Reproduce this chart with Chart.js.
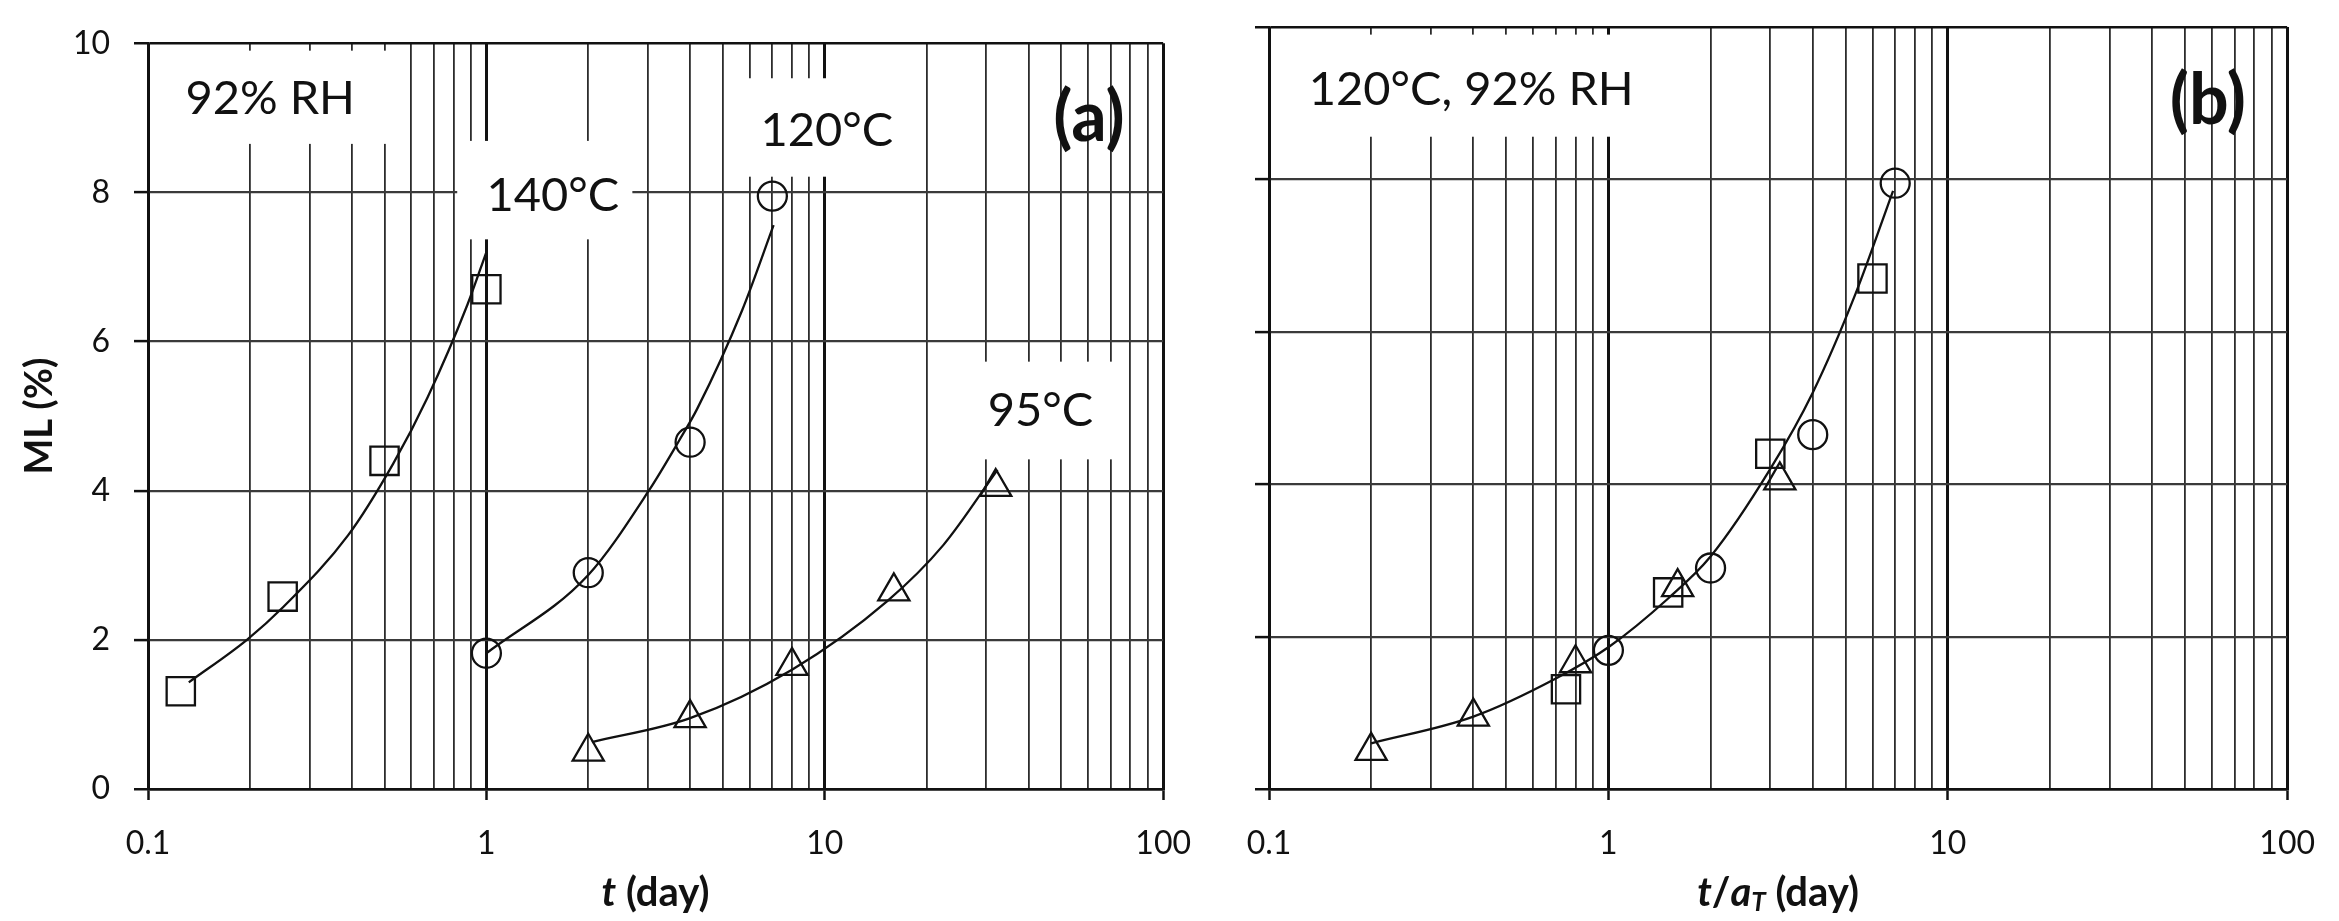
<!DOCTYPE html>
<html>
<head>
<meta charset="utf-8">
<script src="https://cdn.jsdelivr.net/npm/chart.js@4.4.1/dist/chart.umd.min.js"></script>
<style>
  body { margin: 0; background: #fff; }
  #wrap { position: relative; width: 2339px; height: 921px; overflow: hidden; background: #fff; }
  canvas { position: absolute; top: 0; }
  #chartA { left: 0; }
  #chartB { left: 1215px; }
</style>
</head>
<body>
<div id="wrap">
  <canvas id="chartA" width="1215" height="921"></canvas>
  <canvas id="chartB" width="1124" height="921"></canvas>
</div>
<script>
// axis ticks
const xTicks = [0.1, 0.2, 0.3, 0.4, 0.5, 0.6, 0.7, 0.8, 0.9,
                1, 2, 3, 4, 5, 6, 7, 8, 9,
                10, 20, 30, 40, 50, 60, 70, 80, 90, 100];
const xLabels = [0.1, 1, 10, 100];

// panel (a) measured points
const t140 = [0.125, 0.25, 0.5, 1];
const ml140 = [1.31, 2.58, 4.4, 6.7];
const t120 = [1, 2, 4, 7];
const ml120 = [1.82, 2.9, 4.65, 7.95];
const t95 = [2, 4, 8, 16, 32];
const ml95 = [0.5, 0.95, 1.65, 2.65, 4.05];

// panel (a) fitted curves
const fit140T = [0.132, 0.196, 0.251, 0.39, 0.53, 0.67, 0.88, 1.0];
const fit140ML = [1.43, 2.0, 2.44, 3.4, 4.36, 5.25, 6.5, 7.2];
const fit120T = [1.0, 2, 3.03, 3.71, 4.2, 5.7, 7.06];
const fit120ML = [1.82, 2.87, 4.01, 4.67, 5.1, 6.42, 7.56];
const fit95T = [2.05, 4, 8, 15.3, 22.4, 32.4];
const fit95ML = [0.63, 0.95, 1.6, 2.52, 3.27, 4.28];

// panel (b) shifted points (t / aT)
const tb140 = [0.75, 1.5, 3, 6];
const tb120 = [1, 2, 4, 7];
const tb95 = [0.2, 0.4, 0.8, 1.6, 3.2];

// panel (b) master curve
const masterT = [0.2, 0.4, 0.7, 1, 1.5, 2, 3, 4, 5.35, 6.9];
const masterML = [0.6, 0.95, 1.45, 1.86, 2.5, 3.05, 4.2, 5.2, 6.5, 7.85];

const FONT = 'Lato, "Open Sans", sans-serif';
const INK = '#111';

function pts(xs, ys) {
    return xs.map((v, i) => ({ x: v, y: ys[i] }));
}

function isDecade(v) {
    const l = Math.log10(v);
    return Math.abs(l - Math.round(l)) < 1e-6;
}

function markers(xs, ys, style, radius) {
    return {
        data: pts(xs, ys),
        showLine: false,
        pointStyle: style,
        pointRadius: radius,
        pointBorderWidth: 2.3,
        pointBorderColor: INK,
        pointBackgroundColor: 'rgba(0,0,0,0)',
    };
}

function curve(xs, ys) {
    return {
        data: pts(xs, ys),
        showLine: true,
        borderColor: INK,
        borderWidth: 2.3,
        pointRadius: 0,
        cubicInterpolationMode: 'monotone',
    };
}

function drawSegments(ctx, segs, cx, cy) {
    let total = 0;
    segs.forEach(s => {
        ctx.font = s.font;
        s.w = ctx.measureText(s.text).width;
        total += s.w;
    });
    let xx = cx - total / 2;
    ctx.textAlign = 'left';
    ctx.textBaseline = 'middle';
    segs.forEach(s => {
        ctx.font = s.font;
        ctx.fillText(s.text, xx, cy + (s.dy || 0));
        xx += s.w;
    });
}

// white label boxes, panel letters and axis titles
const panelText = {
    id: 'panelText',
    beforeDatasetsDraw(chart, args, opts) {
        const { ctx, scales: { x, y } } = chart;
        ctx.save();
        (opts.boxes || []).forEach(b => {
            const x0 = x.getPixelForValue(b.box[0]);
            const x1 = x.getPixelForValue(b.box[1]);
            const y0 = y.getPixelForValue(b.box[3]);
            const y1 = y.getPixelForValue(b.box[2]);
            ctx.fillStyle = '#fff';
            ctx.fillRect(x0, y0, x1 - x0, y1 - y0);
            ctx.fillStyle = INK;
            ctx.font = '47px ' + FONT;
            ctx.textAlign = 'left';
            ctx.textBaseline = 'middle';
            ctx.fillText(b.text, x.getPixelForValue(b.at[0]), y.getPixelForValue(b.at[1]));
        });
        if (opts.letter) {
            ctx.fillStyle = INK;
            ctx.font = 'bold 70px ' + FONT;
            ctx.textAlign = 'center';
            ctx.textBaseline = 'middle';
            ctx.fillText(opts.letter.text, x.getPixelForValue(opts.letter.at[0]), y.getPixelForValue(opts.letter.at[1]));
        }
        ctx.restore();
    },
    afterDraw(chart, args, opts) {
        const { ctx, chartArea } = chart;
        ctx.save();
        ctx.fillStyle = INK;
        if (opts.xTitle) {
            drawSegments(ctx, opts.xTitle, (chartArea.left + chartArea.right) / 2, 893);
        }
        if (opts.yTitle) {
            ctx.translate(40, (chartArea.top + chartArea.bottom) / 2);
            ctx.rotate(-Math.PI / 2);
            ctx.font = 'bold 38px ' + FONT;
            ctx.textAlign = 'center';
            ctx.textBaseline = 'middle';
            ctx.fillText(opts.yTitle, 0, 0);
        }
        ctx.restore();
    }
};

function makeOptions(yWidth, padRight, showYLabels, textOpts) {
    return {
        responsive: false,
        animation: false,
        devicePixelRatio: 1,
        layout: { padding: { top: 27, right: padRight, left: 0, bottom: 0 } },
        plugins: {
            legend: { display: false },
            tooltip: { enabled: false },
            panelText: textOpts,
        },
        scales: {
            x: {
                type: 'logarithmic',
                min: 0.1,
                max: 100,
                afterBuildTicks: (scale) => {
                    scale.ticks = xTicks.map(v => ({ value: v, major: isDecade(v) }));
                },
                afterFit: (scale) => { scale.height = 132; },
                ticks: {
                    autoSkip: false,
                    maxRotation: 0,
                    padding: 24,
                    color: INK,
                    font: { family: FONT, size: 32 },
                    callback: (v) => xLabels.includes(v) ? String(v) : '',
                },
                grid: {
                    color: (c) => isDecade(c.tick.value) ? '#111' : '#2c2c2c',
                    lineWidth: (c) => isDecade(c.tick.value) ? 3 : 1.8,
                    tickLength: 11,
                    tickWidth: 2.5,
                    tickColor: (c) => isDecade(c.tick.value) ? '#111' : 'rgba(0,0,0,0)',
                },
                border: { color: '#111', width: 2.5 },
            },
            y: {
                min: 0,
                max: 10,
                afterFit: (scale) => { scale.width = yWidth; },
                ticks: {
                    stepSize: 2,
                    display: showYLabels,
                    padding: 24,
                    color: INK,
                    font: { family: FONT, size: 32 },
                },
                grid: {
                    color: (c) => (c.tick.value === 0 || c.tick.value === 10) ? '#111' : '#3a3a3a',
                    lineWidth: (c) => (c.tick.value === 0 || c.tick.value === 10) ? 2.5 : 2.2,
                    tickLength: 14,
                    tickWidth: 2.5,
                    tickColor: '#111',
                },
                border: { color: '#111', width: 2.5 },
            }
        }
    };
}

Chart.register(panelText);

new Chart(document.getElementById('chartA'), {
    type: 'scatter',
    data: {
        datasets: [
            curve(fit140T, fit140ML),
            curve(fit120T, fit120ML),
            curve(fit95T, fit95ML),
            markers(t140, ml140, 'rect', 20),
            markers(t120, ml120, 'circle', 14.5),
            markers(t95, ml95, 'triangle', 18),
        ]
    },
    options: makeOptions(148, 38, true, {
        boxes: [
            { text: '92% RH', box: [0.102, 0.55, 8.65, 9.9], at: [0.129, 9.25] },
            { text: '140°C', box: [0.82, 2.7, 7.37, 8.69], at: [1.0, 7.95] },
            { text: '120°C', box: [5.46, 17.5, 8.21, 9.53], at: [6.46, 8.82] },
            { text: '95°C', box: [26.2, 72, 4.42, 5.73], at: [30.3, 5.07] },
        ],
        letter: { text: '(a)', at: [60.4, 8.99] },
        xTitle: [
            { text: 't', font: 'italic bold 40px ' + FONT },
            { text: ' (day)', font: 'bold 40px ' + FONT },
        ],
        yTitle: 'ML (%)',
    })
});

new Chart(document.getElementById('chartB'), {
    type: 'scatter',
    data: {
        datasets: [
            curve(masterT, masterML),
            markers(tb140, ml140, 'rect', 20),
            markers(tb120, ml120, 'circle', 14.5),
            markers(tb95, ml95, 'triangle', 18),
        ]
    },
    options: makeOptions(54, 43, false, {
        boxes: [
            { text: '120°C, 92% RH', box: [0.102, 1.42, 8.56, 9.9], at: [0.131, 9.17] },
        ],
        letter: { text: '(b)', at: [58.4, 9.02] },
        xTitle: [
            { text: 't', font: 'italic bold 40px ' + FONT },
            { text: '/', font: 'bold 40px ' + FONT },
            { text: 'a', font: 'italic bold 40px ' + FONT },
            { text: 'T', font: 'italic bold 26px ' + FONT, dy: 10 },
            { text: ' (day)', font: 'bold 40px ' + FONT },
        ],
    })
});
</script>
</body>
</html>
